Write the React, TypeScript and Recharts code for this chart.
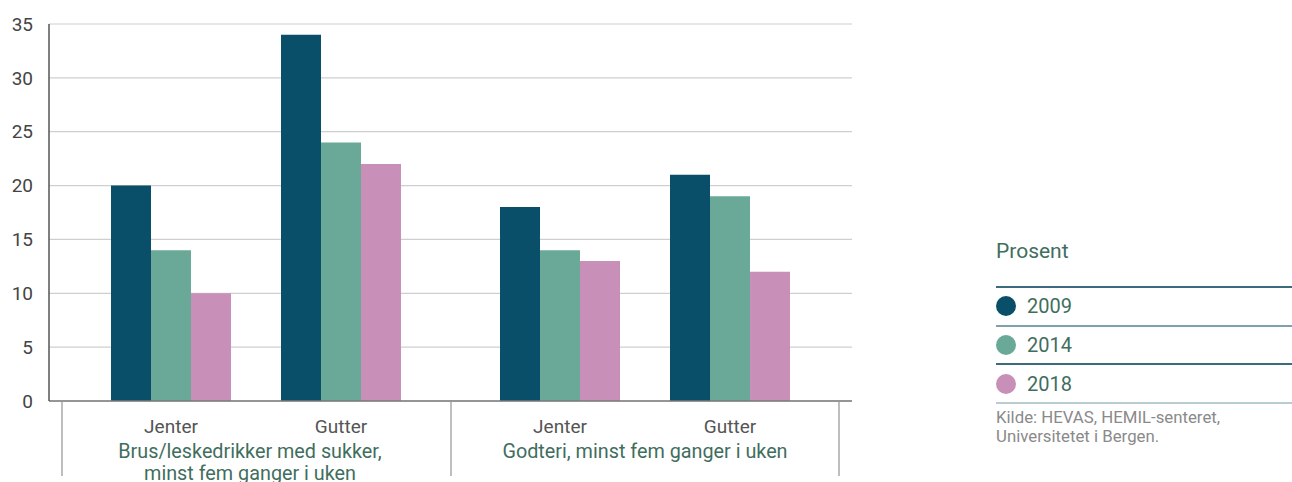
import React from 'react';
import { BarChart, Bar, XAxis, YAxis, CartesianGrid } from 'recharts';

// Share of pupils, per cent
const genders = ['Jenter', 'Gutter'];
const years = ['2009', '2014', '2018'];
const groupTitles = [
  ['Brus/leskedrikker med sukker,', 'minst fem ganger i uken'],
  ['Godteri, minst fem ganger i uken'],
];
const brus2009 = [20, 34];
const brus2014 = [14, 24];
const brus2018 = [10, 22];
const godteri2009 = [18, 21];
const godteri2014 = [14, 19];
const godteri2018 = [13, 12];
const yTicks = [0, 5, 10, 15, 20, 25, 30, 35];
const source = ['Kilde: HEVAS, HEMIL-senteret,', 'Universitetet i Bergen.'];

const colors = ['#0a4f69', '#6aa998', '#c88fb8'];
const legendRules = ['#3b6b7c', '#7fa1ab', '#3b6b7c', '#b9ccd2'];
const FONT = 'Roboto, sans-serif';
const GREEN_TEXT = '#3f6e5e';

const toRows = (a: number[], b: number[], c: number[]) =>
  genders.map((g, i) => ({ gender: g, y2009: a[i], y2014: b[i], y2018: c[i] }));

const brusRows = toRows(brus2009, brus2014, brus2018);
const godteriRows = toRows(godteri2009, godteri2014, godteri2018);

const HEIGHT = 482;
const TOP = 24;
const AXIS_H = 81;

function GroupChart({ rows, left, width, showY, padding }: any) {
  return (
    <div style={{ position: 'absolute', left, top: 0 }}>
      <BarChart
        width={width}
        height={HEIGHT}
        data={rows}
        margin={{ top: TOP, right: 0, bottom: 0, left: 0 }}
        barGap={0}
        barSize={40}
      >
        <CartesianGrid vertical={false} stroke="#cfcfcf" strokeWidth={1.2} />
        <XAxis
          dataKey="gender"
          height={AXIS_H}
          padding={padding}
          tickLine={false}
          tickSize={0}
          tickMargin={19}
          axisLine={{ stroke: '#7a7a7a', strokeWidth: 1.5 }}
          tick={{ fill: '#555555', fontSize: 19, fontFamily: FONT }}
        />
        <YAxis
          hide={!showY}
          width={49}
          domain={[0, 35]}
          ticks={yTicks}
          interval={0}
          tickLine={false}
          tickSize={0}
          tickMargin={16}
          axisLine={{ stroke: '#555555', strokeWidth: 1.5 }}
          tick={{ fill: '#444444', fontSize: 19, fontFamily: FONT }}
        />
        {years.map((y, i) => (
          <Bar key={y} dataKey={`y${y}`} fill={colors[i]} isAnimationActive={false} />
        ))}
      </BarChart>
    </div>
  );
}

export default function App() {
  // separators along the bottom axis and the centre of each group title
  const separators = [62, 451, 839];
  const titleCenters = [250, 645];
  return (
    <div
      style={{
        position: 'absolute',
        left: 0,
        top: 0,
        width: 1292,
        height: HEIGHT,
        overflow: 'hidden',
        background: '#fff',
        fontFamily: FONT,
      }}
    >
      <GroupChart rows={brusRows} left={0} width={451} showY padding={{ left: 37, right: 25 }} />
      <GroupChart rows={godteriRows} left={451} width={401} showY={false} padding={{ left: 24, right: 37 }} />

      <svg
        width={1292}
        height={HEIGHT}
        style={{ position: 'absolute', left: 0, top: 0, pointerEvents: 'none' }}
      >
        {separators.map((x) => (
          <line key={x} x1={x} x2={x} y1={402} y2={476} stroke="#a8a8a8" strokeWidth={1.5} />
        ))}
        {groupTitles.map((lines, gi) => (
          <text
            key={gi}
            x={titleCenters[gi]}
            y={458}
            textAnchor="middle"
            fill={GREEN_TEXT}
            fontSize={19.8}
            fontFamily={FONT}
          >
            {lines.map((l, li) => (
              <tspan key={li} x={titleCenters[gi]} dy={li === 0 ? 0 : 22}>
                {l}
              </tspan>
            ))}
          </text>
        ))}
      </svg>

      {/* legend */}
      <div style={{ position: 'absolute', left: 996, top: 236, width: 296 }}>
        <div style={{ color: GREEN_TEXT, fontSize: 21, lineHeight: '30px', height: 50 }}>Prosent</div>
        <div style={{ borderTop: `2px solid ${legendRules[0]}` }} />
        {years.map((y, i) => (
          <div key={y}>
            <div style={{ display: 'flex', alignItems: 'center', height: 36.7 }}>
              <span
                style={{
                  width: 20,
                  height: 20,
                  borderRadius: '50%',
                  background: colors[i],
                  marginLeft: 0,
                  marginRight: 11,
                }}
              />
              <span style={{ color: GREEN_TEXT, fontSize: 20 }}>{y}</span>
            </div>
            <div style={{ borderTop: `2px solid ${legendRules[i + 1]}` }} />
          </div>
        ))}
        <div style={{ color: '#8a8a8a', fontSize: 16.8, lineHeight: '19px', marginTop: 4 }}>
          {source.map((s) => (
            <div key={s}>{s}</div>
          ))}
        </div>
      </div>
    </div>
  );
}
